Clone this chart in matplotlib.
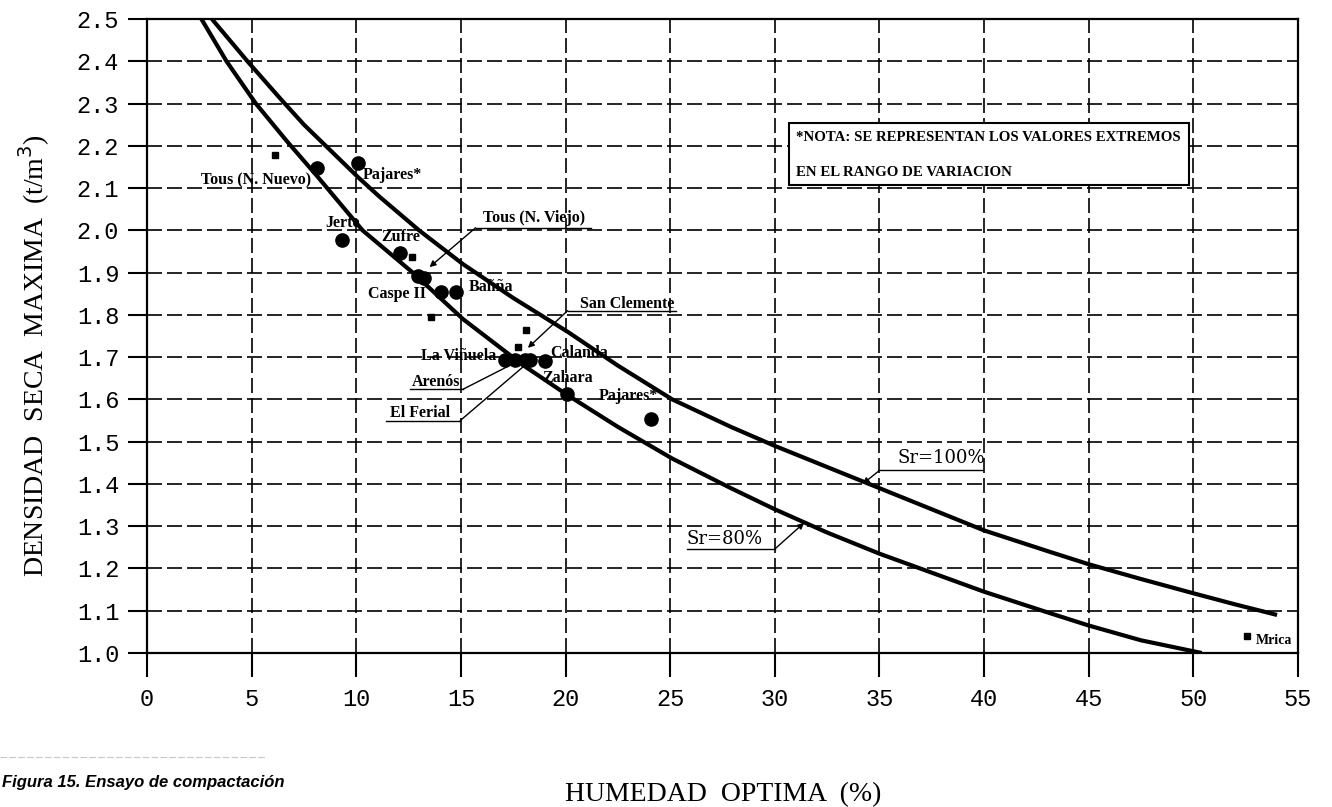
import matplotlib
matplotlib.use("Agg")
import matplotlib.pyplot as plt
from matplotlib.patches import Rectangle
from matplotlib.lines import Line2D

# curvas de saturacion (humedad %, densidad t/m3)
sr100_w = [3.1, 4.8, 6.4, 7.5, 10.1, 11.1, 13.0, 15.1, 17.5, 20.1, 22.5, 25.1, 27.9,
           30.0, 32.5, 35.0, 37.5, 40.0, 43.1, 45.0, 47.5, 50.1, 52.0, 54.0]
sr100_d = [2.50, 2.40, 2.31, 2.25, 2.125, 2.08, 2.00, 1.92, 1.84, 1.76, 1.68, 1.60, 1.535,
           1.49, 1.44, 1.39, 1.34, 1.29, 1.24, 1.21, 1.175, 1.14, 1.115, 1.09]
sr80_w = [2.6, 3.8, 5.2, 6.7, 8.1, 10.3, 12.7, 15.1, 18.0, 20.1, 22.5, 25.1, 27.9,
          30.0, 32.5, 35.0, 37.5, 40.0, 43.1, 45.0, 47.5, 50.4]
sr80_d = [2.50, 2.40, 2.30, 2.21, 2.13, 2.00, 1.90, 1.79, 1.68, 1.61, 1.535, 1.46, 1.39,
          1.34, 1.285, 1.235, 1.19, 1.145, 1.095, 1.065, 1.03, 1.00]

# ensayos (circulos y cuadrados)
circ_w = [8.13, 10.09, 9.32, 12.09, 12.95, 13.25, 14.05, 14.77, 17.1, 17.6, 18.07, 18.3, 19.02, 20.08, 24.1]
circ_d = [2.147, 2.159, 1.977, 1.946, 1.893, 1.887, 1.854, 1.854, 1.693, 1.693, 1.693, 1.693, 1.691, 1.613, 1.554]
sq_w = [6.12, 12.67, 13.58, 18.12, 17.74, 52.55]
sq_d = [2.178, 1.937, 1.795, 1.764, 1.724, 1.04]

xticks = list(range(0, 56, 5))
yticks = [1.0, 1.1, 1.2, 1.3, 1.4, 1.5, 1.6, 1.7, 1.8, 1.9, 2.0, 2.1, 2.2, 2.3, 2.4, 2.5]

fig = plt.figure(figsize=(13.32, 8.07), dpi=100)
ax = fig.add_axes([147/1332, 1-653/807, (1298-147)/1332, (653-19)/807])
ax.set_xlim(0, 55)
ax.set_ylim(1.0, 2.5)
ax.set_xticks(xticks)
ax.set_yticks(yticks)
ax.set_xticklabels([str(t) for t in xticks], family="Liberation Mono", fontsize=17)
ax.set_yticklabels(["%.1f" % t for t in yticks], family="Liberation Mono", fontsize=17)
ax.tick_params(axis="x", direction="out", length=17, width=1.5, pad=8)
ax.tick_params(axis="y", direction="out", length=14, width=1.5, pad=6)
ax.grid(True, color="black", lw=1.2, linestyle=(0, (9, 3)))
for s in ax.spines.values():
    s.set_linewidth(1.6)

ax.plot(sr100_w, sr100_d, color="black", lw=3, solid_capstyle="butt", zorder=3)
ax.plot(sr80_w, sr80_d, color="black", lw=3, solid_capstyle="butt", zorder=3)
ax.plot(circ_w, circ_d, "o", color="black", ms=9.5, zorder=5)
ax.plot(sq_w, sq_d, "s", color="black", ms=5, zorder=5)

lab = dict(family="Liberation Serif", fontweight="bold", fontsize=11.5, ha="left", va="center", zorder=6)
simple = [("Tous (N. Nuevo)", 2.6, 2.117), ("Pajares*", 10.3, 2.131), ("Jerte", 8.5, 2.017),
          ("Zufre", 11.2, 1.984), ("Caspe II", 10.55, 1.849), ("Bañña", 15.35, 1.866),
          ("La Viñuela", 13.1, 1.703), ("Calanda", 19.25, 1.71), ("Zahara", 18.9, 1.65),
          ("Pajares*", 21.6, 1.608)]
for t, x, y in simple:
    ax.text(x, y, t, **lab)
ax.text(53.0, 1.03, "Mrica", **dict(lab, fontsize=10))

def leader(text, tx, ty, x0, x1, yl, start, tip, arrow, **kw):
    ax.text(tx, ty, text, **kw)
    ax.plot([x0, x1], [yl, yl], color="black", lw=1, zorder=6)
    ax.annotate("", xy=tip, xytext=start,
                arrowprops=dict(arrowstyle="-|>" if arrow else "-", color="black", lw=1,
                                mutation_scale=9, shrinkA=0, shrinkB=0), zorder=6)

leader("Tous (N. Viejo)", 16.05, 2.028, 15.7, 21.2, 2.006, (15.7, 2.006), (13.5, 1.913), True, **lab)
leader("San Clemente", 20.7, 1.826, 20.1, 25.3, 1.81, (20.1, 1.81), (18.2, 1.722), True, **lab)
leader("Arenós", 12.65, 1.642, 12.57, 15.1, 1.624, (15.1, 1.624), (17.2, 1.677), False, **lab)
leader("El Ferial", 11.6, 1.568, 11.4, 14.97, 1.55, (14.97, 1.55), (17.97, 1.677), False, **lab)

sr = dict(family="DejaVu Serif", fontsize=13, ha="left", va="center", zorder=6)
leader("Sr=100%", 35.85, 1.461, 35.0, 39.9, 1.432, (35.0, 1.432), (34.2, 1.40), True, **sr)
leader("Sr=80%", 25.8, 1.27, 25.8, 30.0, 1.246, (30.0, 1.246), (31.4, 1.308), True, **sr)

ax.add_patch(Rectangle((30.69, 2.107), 49.8-30.69, 2.254-2.107, fc="white", ec="black", lw=1.5, zorder=4))
nota = dict(family="Liberation Serif", fontweight="bold", fontsize=10.7, ha="left", va="center", zorder=6)
ax.text(31.0, 2.22, "*NOTA: SE REPRESENTAN LOS VALORES EXTREMOS", **nota)
ax.text(31.0, 2.138, "EN EL RANGO DE VARIACION", **nota)

fig.text(34/1332, 1-356/807, "DENSIDAD  SECA  MAXIMA  (t/m$^3$)", rotation=90,
         family="Liberation Serif", fontsize=20, ha="center", va="center")
fig.text(565/1332, 1-795/807, "HUMEDAD  OPTIMA  (%)", family="Liberation Serif",
         fontsize=20, ha="left", va="center")
fig.text(2/1332, 1-782/807, "Figura 15. Ensayo de compactación",
         family="Liberation Sans", fontsize=12, fontweight="bold", style="italic",
         ha="left", va="center")
fig.add_artist(Line2D([0, 265/1332], [1-757/807, 1-757/807], color="#c8c8c8", lw=0.8, ls=(0, (6, 2))))

fig.savefig("out.png", dpi=100)
